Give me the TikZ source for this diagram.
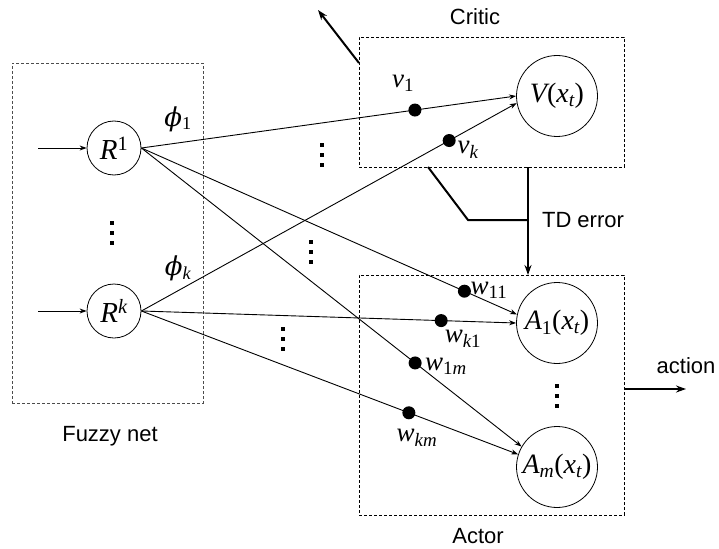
\documentclass[tikz,border=0pt]{standalone}
\usepackage{fontspec}
\setmainfont{Liberation Sans}
\newfontfamily\tms{Liberation Serif}
\newfontfamily\djs{DejaVu Serif}
\newcommand\ti[1]{{\tms\itshape #1}}
\newcommand\tu[1]{{\tms #1}}
\newcommand\subs[1]{\textsubscript{#1}}
\newcommand\sups[1]{\textsuperscript{#1}}
\usetikzlibrary{arrows.meta}
\begin{document}
\begin{tikzpicture}[x=1pt,y=-1pt,
  neuron/.style={draw,circle,inner sep=0pt,line width=0.8pt},
  rnode/.style={neuron,minimum size=54pt,font=\fontsize{29}{32}\selectfont},
  bignode/.style={neuron,minimum size=81pt,font=\fontsize{28}{32}\selectfont},
  wdot/.style={fill,circle,inner sep=0pt,minimum size=13pt},
  grp/.style={draw,dash pattern=on 3pt off 2pt,line width=0.7pt,inner sep=0pt},
  thinarr/.style={-{Stealth[length=7pt,width=5pt]},line width=0.9pt},
  thickarr/.style={-{Stealth[length=10pt,width=7pt]},line width=2pt},
  lbl/.style={font=\fontsize{22}{26}\selectfont},
  mlbl/.style={font=\fontsize{27}{30}\selectfont},
  philbl/.style={font=\fontsize{26}{30}\selectfont},
  vd/.pic={\fill (-2,-12) rectangle (2,-8); \fill (-2,-2) rectangle (2,2); \fill (-2,8) rectangle (2,12);}
]
\useasboundingbox (0,0) rectangle (719,548);

% group boxes
\node[grp,draw=black!70,minimum width=191pt,minimum height=340pt] (fuzzy) at (107.5,233) {};
\node[grp,minimum width=265pt,minimum height=130pt] (critic) at (491.5,102) {};
\node[grp,minimum width=265pt,minimum height=240pt] (actor) at (491.5,395) {};

\node[lbl] (tfuzzy) at (110,436) {Fuzzy net};
\node[lbl] (tcritic) at (475,17) {Critic};
\node[lbl] (tactor) at (478,536) {Actor};

% neurons
\node[rnode] (R1) at (114,148) {\ti{R}\sups{\tu{1}}};
\node[rnode] (Rk) at (114,311) {\ti{R}\sups{\ti{k}}};
\node[bignode] (V) at (557,96) {\ti{V}\tu{(}\ti{x}\subs{\ti{t}}\tu{)}};
\node[bignode] (A1) at (557,323) {\ti{A}\subs{\tu{1}}\tu{(}\ti{x}\subs{\ti{t}}\tu{)}};
\node[bignode] (Am) at (557,467) {\ti{A}\subs{\ti{m}}\tu{(}\ti{x}\subs{\ti{t}}\tu{)}};

% inputs
\coordinate (in1) at (38,148);
\coordinate (ink) at (38,311);
\draw[thinarr] (in1) -- (R1);
\draw[thinarr] (ink) -- (Rk);

% weighted connections
\draw[thinarr] (R1.east) -- node[wdot,pos=0.73] (v1) {} (V.180);
\draw[thinarr] (Rk.east) -- node[wdot,pos=0.82] (vk) {} (V.190);
\draw[thinarr] (R1.east) -- node[wdot,pos=0.86] (w11) {} (A1.168);
\draw[thinarr] (Rk.east) -- node[wdot,pos=0.80] (wk1) {} (A1.180);
\draw[thinarr] (R1.east) -- node[wdot,pos=0.72] (w1m) {} (Am.150);
\draw[thinarr] (Rk.east) -- node[wdot,pos=0.71] (wkm) {} (Am.162);

% labels
\node[philbl] (lphi1) at (178,119) {{\djs\itshape ϕ}\subs{\tu{1}}};
\node[philbl] (lphik) at (178,268) {{\djs\itshape ϕ}\subs{\ti{k}}};
\node[mlbl] (lv1) at (403,83) {\ti{v}\subs{\tu{1}}};
\node[mlbl] (lvk) at (468,150) {\ti{v}\subs{\ti{k}}};
\node[mlbl] (lw11) at (489,290) {\ti{w}\subs{\tu{11}}};
\node[mlbl] (lwk1) at (463,339) {\ti{w}\subs{\ti{k}\tu{1}}};
\node[mlbl] (lw1m) at (446,366) {\ti{w}\subs{\tu{1}\ti{m}}};
\node[mlbl] (lwkm) at (417,438) {\ti{w}\subs{\ti{km}}};

% dots
\pic at (112,233) {vd};
\pic at (322,155) {vd};
\pic at (311,252) {vd};
\pic at (283,339) {vd};
\pic at (557,396) {vd};

% critic output
\coordinate (cstart) at (359,63);
\coordinate (cout) at (318,10);
\draw[thickarr] (cstart) -- (cout);

% TD error
\coordinate (td1) at (428,167);
\coordinate (td2) at (468,220);
\coordinate (td3) at (528,220);
\coordinate (tdtop) at (528,167);
\coordinate (tdbot) at (528,275);
\draw[line width=2pt] (td1) -- (td2) -- (td3);
\draw[thickarr] (tdtop) -- (tdbot);
\node[lbl] (ttd) at (583,220) {TD error};

% action
\coordinate (act1) at (624,389);
\coordinate (act2) at (686,389);
\draw[thickarr] (act1) -- (act2);
\node[lbl] (tact) at (686,366) {action};
\end{tikzpicture}
\end{document}
